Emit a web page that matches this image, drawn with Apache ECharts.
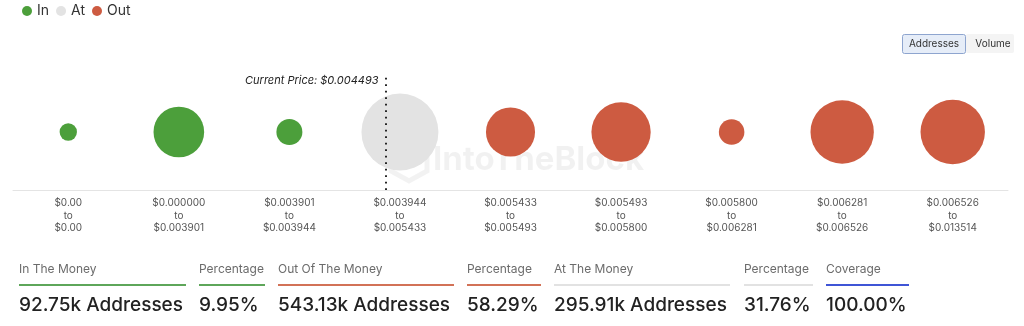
<!DOCTYPE html>
<html>
<head>
<meta charset="utf-8">
<script src="https://cdn.jsdelivr.net/npm/echarts@6/dist/echarts.min.js"></script>
<style>
html,body{margin:0;padding:0;background:#fff;}
#c{width:1024px;height:326px;}
</style>
</head>
<body>
<div id="c"></div>
<script>
// ---- data ----
var rangeLow  = ['$0.00','$0.000000','$0.003901','$0.003944','$0.005433','$0.005493','$0.005800','$0.006281','$0.006526'];
var rangeHigh = ['$0.00','$0.003901','$0.003944','$0.005433','$0.005493','$0.005800','$0.006281','$0.006526','$0.013514'];
var bucketStatus = ['In','In','In','At','Out','Out','Out','Out','Out'];
var addressesK = [2.8, 80, 9.95, 295.91, 72.4, 130.8, 9.4, 161.0, 169.53];
var currentPrice = 0.004493;
var currentPriceLabel = 'Current Price: $0.004493';
var statusNames = ['In','At','Out'];

var colors = {In:'#4c9f3b', At:'#e3e3e3', Out:'#cd5b41'};
var FONT = 'Inter, "Noto Sans", sans-serif';

var categories = rangeLow.map(function(l,i){return l + '\nto\n' + rangeHigh[i];});
var maxV = Math.max.apply(null, addressesK);

function seriesData(name){
  var out = [];
  addressesK.forEach(function(v,i){ if(bucketStatus[i]===name) out.push([i,0,v]); });
  return out;
}

// current price position on hidden value axis
var cpIdx = 0;
for (var i=0;i<rangeLow.length;i++){
  var lo=parseFloat(rangeLow[i].slice(1)), hi=parseFloat(rangeHigh[i].slice(1));
  if(currentPrice>=lo && currentPrice<hi && hi>lo){cpIdx = i + (currentPrice-lo)/(hi-lo);}
}

// stats
function sumOf(name){return addressesK.reduce(function(s,v,i){return s+(bucketStatus[i]===name?v:0);},0);}
var total = sumOf('In')+sumOf('At')+sumOf('Out');
var stats = [
  {label:'In The Money', value: sumOf('In').toFixed(2)+'k Addresses', color:'#5ea65a', x:19, w:167},
  {label:'Percentage', value: (sumOf('In')/total*100).toFixed(2)+'%', color:'#5ea65a', x:199, w:66},
  {label:'Out Of The Money', value: sumOf('Out').toFixed(2)+'k Addresses', color:'#d27257', x:278, w:176},
  {label:'Percentage', value: (sumOf('Out')/total*100).toFixed(2)+'%', color:'#d27257', x:467, w:74},
  {label:'At The Money', value: sumOf('At').toFixed(2)+'k Addresses', color:'#e2e2e2', x:554, w:176},
  {label:'Percentage', value: (sumOf('At')/total*100).toFixed(2)+'%', color:'#e2e2e2', x:744, w:69},
  {label:'Coverage', value: (total/total*100).toFixed(2)+'%', color:'#3f55d6', x:826, w:83}
];

var graphics = [];
stats.forEach(function(s){
  graphics.push({type:'text', left:s.x, top:263, style:{text:s.label, font:'12px '+FONT, fill:'#6b6b6b'}});
  graphics.push({type:'rect', shape:{x:s.x, y:284, width:s.w, height:2}, style:{fill:s.color}});
  graphics.push({type:'text', left:s.x, top:296, style:{text:s.value, font:'500 19px '+FONT, fill:'#222'}});
});
// toggle buttons
graphics.push({type:'rect', shape:{x:966, y:34, width:48, height:19, r:2}, style:{fill:'#f4f4f4'}});
graphics.push({type:'rect', shape:{x:902.5, y:34.5, width:63, height:19, r:2}, style:{fill:'#e6edf8', stroke:'#8ea5cf', lineWidth:1}});
graphics.push({type:'text', x:934, y:44, style:{text:'Addresses', font:'10px '+FONT, fill:'#333', align:'center', verticalAlign:'middle'}});
graphics.push({type:'text', x:993, y:44, style:{text:'Volume', font:'10px '+FONT, fill:'#333', align:'center', verticalAlign:'middle'}});
// watermark
graphics.push({type:'group', z:100, silent:true, children:[
  {type:'polyline', shape:{points:[[391,151],[409,141],[427,151],[427,171],[409,181],[391,171],[391,151]]}, style:{stroke:'rgba(0,0,0,0.05)', fill:null, lineWidth:5}},
  {type:'polyline', shape:{points:[[391,151],[409,161],[427,151]]}, style:{stroke:'rgba(0,0,0,0.05)', fill:null, lineWidth:5}},
  {type:'text', x:433, y:160, style:{text:'IntoTheBlock', font:'bold 33px '+FONT, fill:'rgba(0,0,0,0.055)', verticalAlign:'middle'}}
]});

var series = statusNames.map(function(n){
  return {
    name:n, type:'scatter', xAxisIndex:0, yAxisIndex:0,
    data: seriesData(n),
    symbolSize: function(d){ return 77*Math.pow(d[2]/maxV, 0.32); },
    itemStyle:{color:colors[n], opacity:1},
    emphasis:{disabled:true},
    z:2
  };
});
series.push({
  name:'cp', type:'scatter', xAxisIndex:1, yAxisIndex:0, data:[[cpIdx,0]], symbolSize:0, silent:true,
  markLine:{
    silent:true, symbol:'none', animation:false,
    lineStyle:{color:'#111', type:[1.8,4.7], width:1.8},
    label:{show:true, position:'end', formatter:currentPriceLabel, distance:[0,-7],
      align:'right', verticalAlign:'middle', padding:[0,7,0,0],
      fontStyle:'italic', fontSize:11, color:'#222', fontFamily:FONT},
    data:[{xAxis:cpIdx}]
  }
});

var chart = echarts.init(document.getElementById('c'), null, {renderer:'canvas'});
chart.setOption({
  animation:false,
  legend:{
    left:17, top:-1, icon:'circle', itemWidth:10, itemHeight:10, itemGap:7,
    data:statusNames,
    textStyle:{fontSize:14, color:'#333', fontFamily:FONT}
  },
  grid:{left:13, right:16, top:74, bottom:136},
  xAxis:[
    {type:'category', data:categories, boundaryGap:true,
     axisLine:{onZero:false, lineStyle:{color:'#e4e4e4', width:1}}, axisTick:{show:false}, splitLine:{show:false},
     axisLabel:{interval:0, color:'#555', fontSize:10, lineHeight:12.5, margin:7, fontFamily:FONT}},
    {type:'value', min:0, max:9, show:false}
  ],
  yAxis:{type:'value', min:-1, max:1, show:false},
  series:series,
  graphic:graphics
});
</script>
</body>
</html>
